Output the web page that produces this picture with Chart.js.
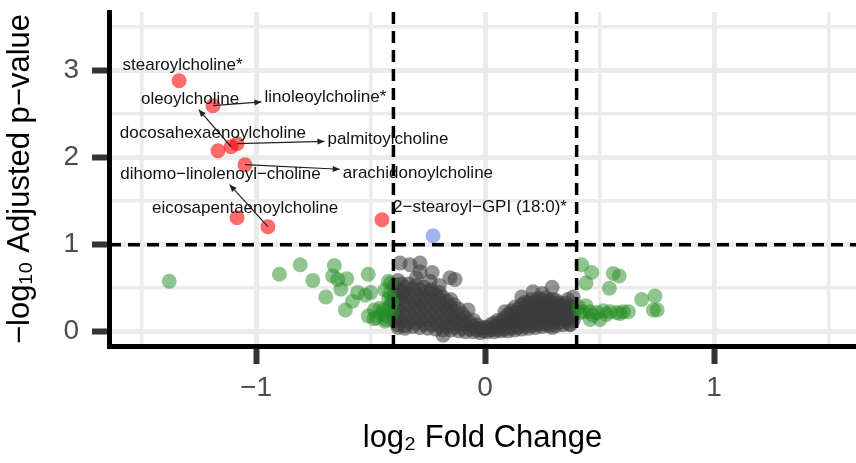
<!DOCTYPE html>
<html>
<head>
<meta charset="utf-8">
<script src="https://cdn.jsdelivr.net/npm/chart.js@4.4.1/dist/chart.umd.min.js"></script>
<style>
  html, body { margin: 0; padding: 0; background: #fff; }
</style>
</head>
<body>
<canvas id="volcano" width="856" height="463"></canvas>
<script>
// thresholds used for colouring
const fcCut = [-0.4, 0.4];
const pCut = 1;

// axis breaks
const xMajor = [-1, 0, 1];
const xMinor = [-1.5, -0.5, 0.5, 1.5];
const yMajor = [0, 1, 2, 3];
const yMinor = [0.5, 1.5, 2.5, 3.5];

// significant metabolites (red), with where the repelled labels sit
const sigNames = ['stearoylcholine*', 'linoleoylcholine*', 'oleoylcholine', 'palmitoylcholine',
  'docosahexaenoylcholine', 'arachidonoylcholine', 'eicosapentaenoylcholine',
  'dihomo−linolenoyl−choline', '2−stearoyl−GPI (18:0)*'];
const sigFC = [-1.336, -1.188, -1.109, -1.083, -1.166, -1.048, -1.083, -0.948, -0.450];
const sigP = [2.885, 2.598, 2.126, 2.161, 2.080, 1.920, 1.310, 1.207, 1.287];
const labelFC = [-1.321, -0.697, -1.288, -0.424, -1.188, -0.293, -1.048, -1.155, -0.022];
const labelP = [3.061, 2.698, 2.667, 2.207, 2.284, 1.824, 1.422, 1.805, 1.425];
const labelArrow = [false, true, true, true, false, true, false, true, false];

// p significant only (blue)
const pOnlyFC = [-0.227];
const pOnlyP = [1.103];

// fold change only (green)
const fcOnly = [
  [-1.379, 0.58], [-0.898, 0.66], [-0.807, 0.77], [-0.752, 0.59], [-0.695, 0.40],
  [-0.658, 0.76], [-0.665, 0.64], [-0.643, 0.60], [-0.604, 0.61], [-0.630, 0.49],
  [-0.610, 0.25], [-0.579, 0.35], [-0.556, 0.45], [-0.524, 0.42], [-0.510, 0.66],
  [-0.499, 0.45], [-0.510, 0.18], [-0.483, 0.25], [-0.473, 0.16], [-0.437, 0.48],
  [-0.422, 0.58], [-0.432, 0.14], [-0.444, 0.25], [-0.407, 0.35], [-0.429, 0.18],
  [-0.412, 0.56], [-0.459, 0.27], [-0.422, 0.27], [-0.407, 0.33], [-0.485, 0.15],
  [-0.437, 0.12], [-0.450, 0.20], [-0.415, 0.44], [-0.405, 0.22], [-0.420, 0.38],
  [0.422, 0.77], [0.466, 0.68], [0.441, 0.56], [0.560, 0.67], [0.586, 0.64], [0.543, 0.50],
  [0.684, 0.37], [0.742, 0.41], [0.735, 0.25], [0.752, 0.25],
  [0.429, 0.23], [0.459, 0.23], [0.488, 0.22], [0.517, 0.24], [0.546, 0.23], [0.575, 0.22],
  [0.604, 0.23], [0.626, 0.23], [0.459, 0.14], [0.502, 0.14], [0.415, 0.22], [0.440, 0.30],
  [0.530, 0.20], [0.590, 0.21], [0.470, 0.19], [0.410, 0.28]
];

// not significant (grey)
const notSig = [
  [-0.395, 0.12], [-0.395, 0.22], [-0.395, 0.33], [-0.395, 0.44], [-0.395, 0.54],
  [-0.38, 0.08], [-0.38, 0.17], [-0.38, 0.28], [-0.38, 0.38], [-0.38, 0.48], [-0.38, 0.59],
  [-0.365, 0.13], [-0.365, 0.23], [-0.365, 0.34], [-0.365, 0.45], [-0.365, 0.55],
  [-0.35, 0.07], [-0.35, 0.18], [-0.35, 0.29], [-0.35, 0.40], [-0.35, 0.51],
  [-0.335, 0.11], [-0.335, 0.21], [-0.335, 0.33], [-0.335, 0.43], [-0.335, 0.55],
  [-0.315, 0.06], [-0.315, 0.16], [-0.315, 0.27], [-0.315, 0.37], [-0.315, 0.49],
  [-0.30, 0.10], [-0.30, 0.22], [-0.30, 0.32], [-0.30, 0.42], [-0.30, 0.53],
  [-0.285, 0.05], [-0.285, 0.15], [-0.285, 0.26], [-0.285, 0.36], [-0.285, 0.48],
  [-0.265, 0.09], [-0.265, 0.19], [-0.265, 0.30], [-0.265, 0.40], [-0.265, 0.51],
  [-0.25, 0.04], [-0.25, 0.14], [-0.25, 0.24], [-0.25, 0.35], [-0.25, 0.46],
  [-0.235, 0.08], [-0.235, 0.18], [-0.235, 0.28], [-0.235, 0.38], [-0.235, 0.48],
  [-0.215, 0.03], [-0.215, 0.12], [-0.215, 0.22], [-0.215, 0.32], [-0.215, 0.43],
  [-0.20, 0.07], [-0.20, 0.17], [-0.20, 0.27], [-0.20, 0.37], [-0.20, 0.45],
  [-0.185, 0.02], [-0.185, 0.11], [-0.185, 0.21], [-0.185, 0.31], [-0.185, 0.40],
  [-0.165, 0.06], [-0.165, 0.15], [-0.165, 0.25], [-0.165, 0.35],
  [-0.15, 0.02], [-0.15, 0.10], [-0.15, 0.19], [-0.15, 0.29], [-0.15, 0.37],
  [-0.135, 0.05], [-0.135, 0.14], [-0.135, 0.23], [-0.135, 0.31],
  [-0.115, 0.01], [-0.115, 0.09], [-0.115, 0.17], [-0.115, 0.26],
  [-0.10, 0.04], [-0.10, 0.12], [-0.10, 0.21],
  [-0.085, 0.00], [-0.085, 0.08], [-0.085, 0.16],
  [-0.065, 0.03], [-0.065, 0.10],
  [-0.05, 0.00], [-0.05, 0.06], [-0.05, 0.13],
  [-0.035, 0.02], [-0.035, 0.08],
  [-0.02, -0.01], [-0.02, 0.04],
  [-0.005, 0.01], [-0.005, 0.05],
  [0.01, 0.00], [0.01, 0.05],
  [0.025, 0.02], [0.025, 0.08],
  [0.04, 0.00], [0.04, 0.05], [0.04, 0.10],
  [0.055, 0.02], [0.055, 0.08], [0.055, 0.13],
  [0.07, 0.01], [0.07, 0.06], [0.07, 0.12],
  [0.085, 0.03], [0.085, 0.09], [0.085, 0.16],
  [0.10, 0.01], [0.10, 0.07], [0.10, 0.14], [0.10, 0.20],
  [0.115, 0.04], [0.115, 0.11], [0.115, 0.18], [0.115, 0.24],
  [0.13, 0.02], [0.13, 0.08], [0.13, 0.15], [0.13, 0.22], [0.13, 0.28],
  [0.145, 0.05], [0.145, 0.12], [0.145, 0.19], [0.145, 0.26],
  [0.16, 0.03], [0.16, 0.09], [0.16, 0.17], [0.16, 0.24], [0.16, 0.31],
  [0.175, 0.06], [0.175, 0.13], [0.175, 0.21], [0.175, 0.28], [0.175, 0.34],
  [0.19, 0.04], [0.19, 0.10], [0.19, 0.18], [0.19, 0.26], [0.19, 0.33],
  [0.205, 0.07], [0.205, 0.14], [0.205, 0.22], [0.205, 0.30], [0.205, 0.37],
  [0.22, 0.05], [0.22, 0.11], [0.22, 0.19], [0.22, 0.27], [0.22, 0.35],
  [0.235, 0.08], [0.235, 0.15], [0.235, 0.23], [0.235, 0.31], [0.235, 0.38],
  [0.25, 0.06], [0.25, 0.12], [0.25, 0.20], [0.25, 0.28], [0.25, 0.36],
  [0.265, 0.09], [0.265, 0.16], [0.265, 0.24], [0.265, 0.32], [0.265, 0.39],
  [0.28, 0.07], [0.28, 0.13], [0.28, 0.21], [0.28, 0.29], [0.28, 0.36],
  [0.295, 0.10], [0.295, 0.17], [0.295, 0.25], [0.295, 0.33],
  [0.31, 0.07], [0.31, 0.14], [0.31, 0.22], [0.31, 0.30], [0.31, 0.36],
  [0.325, 0.11], [0.325, 0.18], [0.325, 0.26], [0.325, 0.33],
  [0.34, 0.08], [0.34, 0.15], [0.34, 0.23], [0.34, 0.30],
  [0.355, 0.12], [0.355, 0.19], [0.355, 0.27], [0.355, 0.33],
  [0.37, 0.09], [0.37, 0.16], [0.37, 0.24], [0.37, 0.30],
  [0.385, 0.13], [0.385, 0.20], [0.385, 0.27],
  // scattered ones around the edge of the cloud
  [-0.371, 0.79], [-0.328, 0.77], [-0.284, 0.79], [-0.284, 0.69], [-0.231, 0.68],
  [-0.153, 0.62], [-0.131, 0.60], [-0.362, 0.46], [-0.349, 0.04], [-0.183, -0.04],
  [-0.074, 0.25], [-0.30, 0.62], [-0.24, 0.58], [-0.20, 0.53], [-0.38, 0.05],
  [0.293, 0.51], [0.21, 0.46], [0.087, 0.23], [0.297, 0.37], [0.362, 0.37],
  [0.371, 0.08], [0.293, 0.05], [0.385, 0.40], [0.16, 0.40], [0.25, 0.44]
];

const FONT = "'Liberation Sans', Arial, sans-serif";
const toXY = arr => arr.map(p => ({ x: p[0], y: p[1] }));
const minus = v => v < 0 ? '\u2212' + Math.abs(v) : String(v);

// dashed threshold lines + repelled labels with arrows
const overlay = {
  id: 'overlay',
  afterDatasetsDraw(chart) {
    const { ctx, chartArea: area, scales: { x, y } } = chart;
    ctx.save();
    ctx.strokeStyle = '#000';
    ctx.lineWidth = 3.5;
    ctx.setLineDash([12, 7]);
    fcCut.forEach(v => {
      const px = x.getPixelForValue(v);
      ctx.beginPath();
      ctx.moveTo(px, area.top);
      ctx.lineTo(px, area.bottom);
      ctx.stroke();
    });
    const py = y.getPixelForValue(pCut);
    ctx.beginPath();
    ctx.moveTo(area.left, py);
    ctx.lineTo(area.right, py);
    ctx.stroke();
    ctx.setLineDash([]);

    ctx.font = '17px ' + FONT;
    ctx.textAlign = 'center';
    ctx.textBaseline = 'middle';
    sigNames.forEach((name, i) => {
      const cx = x.getPixelForValue(labelFC[i]);
      const cy = y.getPixelForValue(labelP[i]);
      if (labelArrow[i]) {
        const px = x.getPixelForValue(sigFC[i]);
        const ppy = y.getPixelForValue(sigP[i]);
        const hw = ctx.measureText(name).width / 2 + 3;
        const hh = 10;
        const dx = px - cx, dy = ppy - cy;
        const s = Math.min(Math.abs(dx) > 0 ? hw / Math.abs(dx) : 99, Math.abs(dy) > 0 ? hh / Math.abs(dy) : 99);
        if (s < 1) {
          const ex = cx + dx * s, ey = cy + dy * s;
          const len = Math.hypot(ex - px, ey - ppy);
          const ux = (ex - px) / len, uy = (ey - ppy) / len;
          ctx.strokeStyle = '#222';
          ctx.fillStyle = '#222';
          ctx.lineWidth = 1.2;
          ctx.beginPath();
          ctx.moveTo(px, ppy);
          ctx.lineTo(ex, ey);
          ctx.stroke();
          ctx.beginPath();
          ctx.moveTo(ex, ey);
          ctx.lineTo(ex - ux * 7 - uy * 3, ey - uy * 7 + ux * 3);
          ctx.lineTo(ex - ux * 7 + uy * 3, ey - uy * 7 - ux * 3);
          ctx.closePath();
          ctx.fill();
        }
      }
      ctx.fillStyle = '#111';
      ctx.fillText(name, cx, cy);
    });
    ctx.restore();
  }
};

const isMajor = (list) => (c) => c.tick && list.includes(c.tick.value);

new Chart(document.getElementById('volcano'), {
  type: 'scatter',
  data: {
    datasets: [
      {
        label: 'NS',
        data: toXY(notSig),
        backgroundColor: 'rgba(60,60,60,0.55)',
        order: 4
      },
      {
        label: 'Log2 FC',
        data: toXY(fcOnly),
        backgroundColor: 'rgba(34,139,34,0.5)',
        order: 3
      },
      {
        label: 'p-value',
        data: pOnlyFC.map((v, i) => ({ x: v, y: pOnlyP[i] })),
        backgroundColor: 'rgba(65,105,225,0.5)',
        order: 2
      },
      {
        label: 'p-value and log2 FC',
        data: sigFC.map((v, i) => ({ x: v, y: sigP[i] })),
        backgroundColor: 'rgba(255,0,0,0.58)',
        order: 1
      }
    ]
  },
  options: {
    responsive: false,
    devicePixelRatio: 1,
    animation: false,
    layout: { autoPadding: false, padding: { top: 12, right: 0, left: 0, bottom: 0 } },
    elements: { point: { radius: 7.5, borderWidth: 0, hoverRadius: 7.5 } },
    plugins: { legend: { display: false }, tooltip: { enabled: false } },
    scales: {
      x: {
        type: 'linear',
        min: -1.642,
        max: 1.62,
        afterBuildTicks: s => { s.ticks = [...xMinor, ...xMajor].sort((a, b) => a - b).map(v => ({ value: v })); },
        afterFit: s => { s.height = 117; s.paddingLeft = 0; s.paddingRight = 0; },
        ticks: {
          autoSkip: false,
          maxRotation: 0,
          padding: 7,
          color: '#4d4d4d',
          font: { family: FONT, size: 28 },
          callback: v => xMajor.includes(v) ? minus(v) : ''
        },
        grid: {
          color: '#ebebeb',
          lineWidth: c => isMajor(xMajor)(c) ? 5 : 3.5,
          tickColor: c => isMajor(xMajor)(c) ? '#333' : 'rgba(0,0,0,0)',
          tickWidth: 6,
          tickLength: 18
        },
        border: { display: true, color: '#000', width: 5 },
        title: {
          display: true,
          text: 'log₂ Fold Change',
          color: '#000',
          font: { family: FONT, size: 31 },
          padding: { top: 0, bottom: 6 }
        }
      },
      y: {
        type: 'linear',
        min: -0.164,
        max: 3.675,
        afterBuildTicks: s => { s.ticks = [...yMinor, ...yMajor].sort((a, b) => a - b).map(v => ({ value: v })); },
        afterFit: s => { s.width = 109; s.paddingTop = 0; s.paddingBottom = 0; },
        ticks: {
          autoSkip: false,
          padding: 13,
          color: '#4d4d4d',
          font: { family: FONT, size: 28 },
          callback: v => yMajor.includes(v) ? String(v) : ''
        },
        grid: {
          color: '#ebebeb',
          lineWidth: c => isMajor(yMajor)(c) ? 5 : 3.5,
          tickColor: c => isMajor(yMajor)(c) ? '#333' : 'rgba(0,0,0,0)',
          tickWidth: 6,
          tickLength: 17
        },
        border: { display: true, color: '#000', width: 5 },
        title: {
          display: true,
          text: '−log₁₀ Adjusted p−value',
          color: '#000',
          font: { family: FONT, size: 31 },
          padding: { top: 2, bottom: 0 }
        }
      }
    }
  },
  plugins: [overlay]
});
</script>
</body>
</html>
